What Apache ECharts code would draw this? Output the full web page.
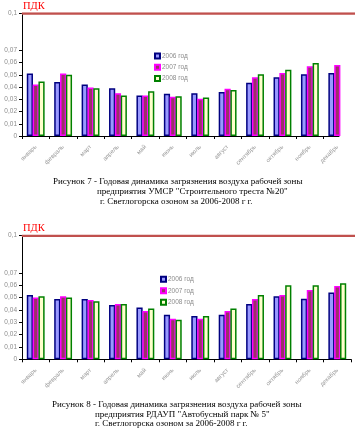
<!DOCTYPE html>
<html><head><meta charset="utf-8">
<script src="https://cdn.jsdelivr.net/npm/echarts@6/dist/echarts.min.js"></script>
<style>html,body{margin:0;padding:0;background:#fff}#c{width:355px;height:435px}</style>
</head><body><div id="c"></div>
<script>
// ---- data ----
const months = ['январь','февраль','март','апрель','май','июнь','июль','август','сентябрь','октябрь','ноябрь','декабрь'];
const years = ['2006 год','2007 год','2008 год'];
// Chart 1: УМСР "Строительного треста №20"
const umsr2006 = [0.051,0.044,0.042,0.039,0.033,0.0345,0.035,0.036,0.0435,0.048,0.0505,0.0515];
const umsr2007 = [0.042,0.051,0.0395,0.035,0.033,0.032,0.0305,0.0385,0.048,0.0515,0.057,0.058];
const umsr2008 = [0.0445,0.050,0.039,0.033,0.0365,0.0325,0.0315,0.0375,0.0505,0.054,0.0595,null];
// Chart 2: РДАУП "Автобусный парк № 5"
const park2006 = [0.052,0.0488,0.0488,0.044,0.042,0.036,0.035,0.036,0.0448,0.051,0.049,0.054];
const park2007 = [0.050,0.051,0.048,0.0448,0.039,0.0328,0.0328,0.039,0.0488,0.052,0.056,0.0594];
const park2008 = [0.051,0.050,0.047,0.0448,0.041,0.032,0.035,0.041,0.052,0.060,0.060,0.0615];
const pdk = 0.1;
const pdkLabel = 'ПДК';
const yTickValues = [0,0.01,0.02,0.03,0.04,0.05,0.06,0.07,0.1];
const caption1 = ['Рисунок 7 - Годовая динамика загрязнения воздуха рабочей зоны',
                  'предприятия УМСР "Строительного треста №20"',
                  'г. Светлогорска озоном за 2006-2008 г г.'];
const caption2 = ['Рисунок 8 - Годовая динамика загрязнения воздуха рабочей зоны',
                  'предприятия РДАУП "Автобусный парк № 5"',
                  'г. Светлогорска озоном за 2006-2008 г г.'];

// ---- styles / layout ----
const fills = ['#9999FF','#993366','#FFFFCC'];
const borders = ['#000080','#FF00FF','#008000'];
const W2 = 329, W1 = 317;
const catIdx = months.map((m,i)=>i);
const tickPos = months.map((m,i)=>i).concat([months.length]);
const labelPos = months.map((m,i)=>i+0.5);
const sans = 'Liberation Sans';
const serif = 'Liberation Serif';

function xAxisFor(grid, max){
  return {type:'value', gridIndex:grid, min:0, max:max,
    axisLine:{show:true, lineStyle:{color:'#000', width:1}},
    axisTick:{show:true, length:3, customValues:tickPos, lineStyle:{color:'#000'}},
    axisLabel:{customValues:labelPos, rotate:45, margin:10, fontSize:6, color:'#999999', fontFamily:sans,
      formatter:v=>months[Math.floor(v)]},
    splitLine:{show:false}};
}
function yAxisFor(grid){
  return {type:'value', gridIndex:grid, min:0, max:pdk,
    axisLine:{show:true, lineStyle:{color:'#000', width:1}},
    axisTick:{show:true, length:3, customValues:yTickValues, lineStyle:{color:'#000'}},
    axisLabel:{customValues:yTickValues, margin:5, fontSize:6.5, color:'#8c8c8c', fontFamily:sans,
      formatter:v=> v===0 ? '0' : String(v).replace('.',',')},
    splitLine:{show:false}};
}
function bars(vals, k, grid){
  return {type:'bar', name:years[k], xAxisIndex:grid, yAxisIndex:grid,
    barWidth:6.2, barGap:'-6%', clip:true,
    itemStyle:{color:fills[k], borderColor:borders[k], borderWidth:1.5},
    data: catIdx.map(i=>[i+0.5, vals[i]==null?'-':vals[i]])};
}
function pdkLine(grid){
  return {type:'line', name:'ПДК', xAxisIndex:grid, yAxisIndex:grid, silent:true,
    symbol:'circle', symbolSize:1, showSymbol:true, itemStyle:{color:'#C0504D'},
    lineStyle:{color:'#C0504D', width:2.5},
    data:[{value:[0,pdk], label:{show:true, position:'top', align:'left', distance:1, offset:[1,0],
            formatter:pdkLabel, color:'#FF0000', fontSize:10.5, fontFamily:serif}},
          {value:[1,pdk]}]};
}
function legendFor(left, top, gap){
  return {data:years, orient:'vertical', left:left, top:top, padding:0, itemWidth:5, itemHeight:5, itemGap:gap,
    icon:'rect', selectedMode:false,
    textStyle:{fontSize:6.5, color:'#8c8c8c', fontFamily:sans, padding:[0,0,0,-3]}};
}
function captionText(lines, xs, ys){
  return lines.map((t,i)=>({type:'text', left:xs[i], top:ys[i],
    style:{text:t, font:'9px "Liberation Serif"', fill:'#000'}}));
}

const chart = echarts.init(document.getElementById('c'), null, {renderer:'canvas'});
chart.setOption({
  animation:false,
  backgroundColor:'#fff',
  grid:[
    {left:22, top:13.5, width:W1, height:122.5},
    {left:22, top:235.7, width:W2, height:123.6},
    {left:22, top:13.5, width:333, height:122.5},
    {left:22, top:235.7, width:333, height:123.6}
  ],
  xAxis:[xAxisFor(0, months.length*W1/W2), xAxisFor(1, months.length),
         {type:'value', gridIndex:2, min:0, max:1, show:false},
         {type:'value', gridIndex:3, min:0, max:1, show:false}],
  yAxis:[yAxisFor(0), yAxisFor(1),
         {type:'value', gridIndex:2, min:0, max:pdk, show:false},
         {type:'value', gridIndex:3, min:0, max:pdk, show:false}],
  legend:[legendFor(154, 52.5, 4.2), legendFor(160, 275.8, 4.5)],
  series:[
    bars(umsr2006,0,0), bars(umsr2007,1,0), bars(umsr2008,2,0),
    bars(park2006,0,1), bars(park2007,1,1), bars(park2008,2,1),
    pdkLine(2), pdkLine(3)
  ],
  graphic: captionText(caption1, [53,97,100], [177,187.5,197.5])
    .concat(captionText(caption2, [52,95,95], [400,410,419.5]))
});
</script></body></html>
